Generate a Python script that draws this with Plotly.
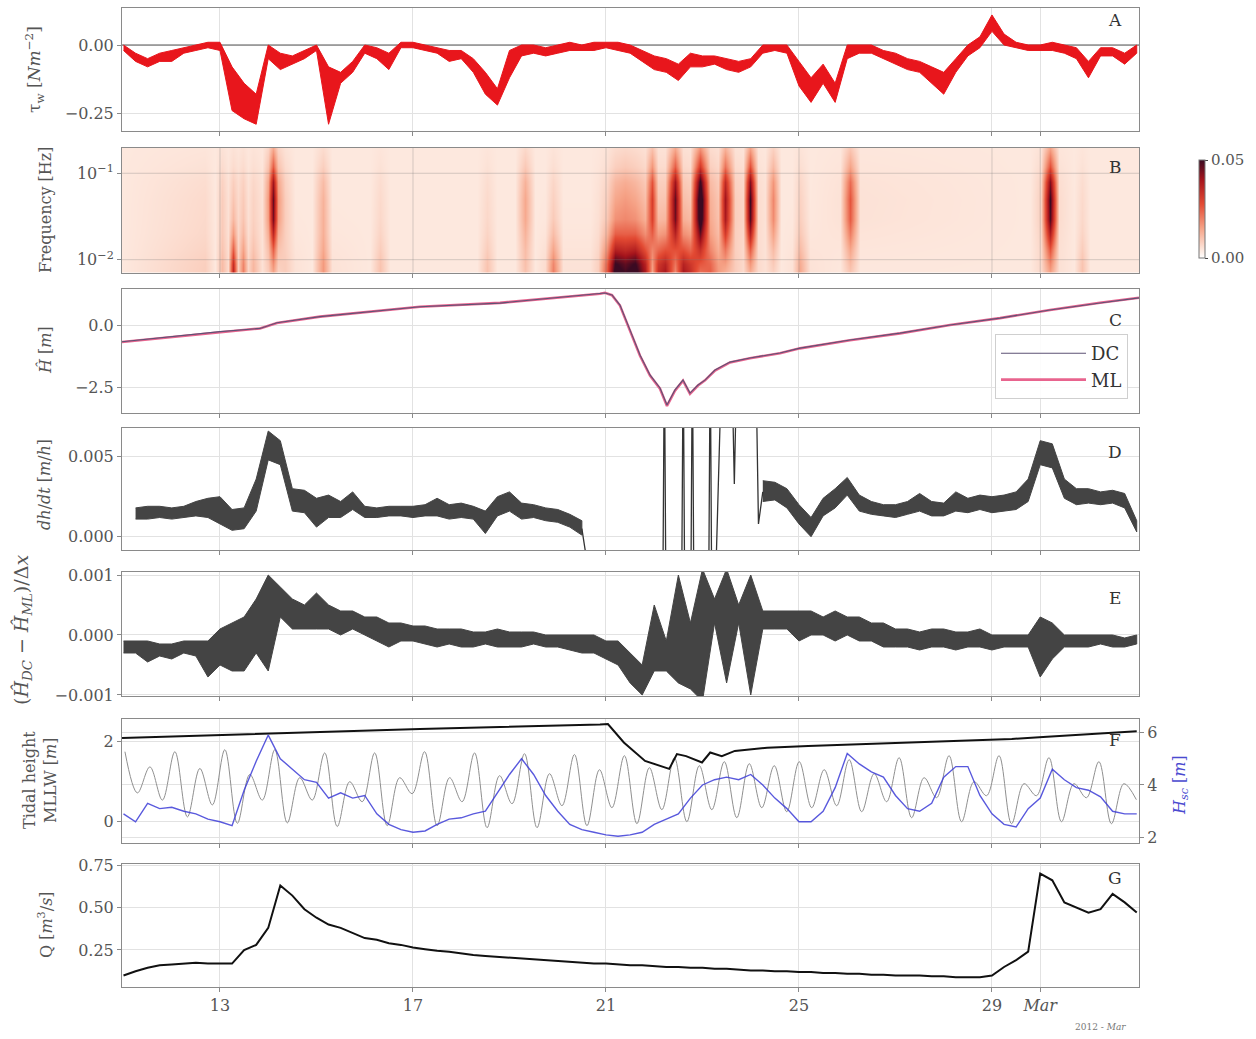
import numpy as np
import plotly.graph_objects as go

# ---------------- data (time = day of Feb 2012, 1 Mar = day 30) ----------------
grid_days = list(np.arange(11.0, 32.001, 0.25))  # 85 samples, 6-hourly

tau_lo = [-0.02,-0.06,-0.08,-0.06,-0.06,-0.03,-0.02,-0.01,-0.02,-0.24,
          -0.27,-0.29,-0.05,-0.09,-0.07,-0.05,-0.02,-0.29,-0.14,-0.10,
          -0.03,-0.05,-0.09,-0.01,-0.01,-0.02,-0.03,-0.06,-0.05,-0.10,
          -0.18,-0.22,-0.12,-0.04,-0.03,-0.04,-0.03,-0.02,-0.02,-0.02,
          -0.01,-0.02,-0.03,-0.06,-0.09,-0.10,-0.13,-0.08,-0.08,-0.07,
          -0.09,-0.10,-0.08,-0.03,-0.02,-0.03,-0.15,-0.21,-0.14,-0.21,
          -0.05,-0.03,-0.03,-0.05,-0.07,-0.09,-0.10,-0.14,-0.18,-0.10,
          -0.04,-0.01,0.05,0.00,-0.01,-0.02,-0.02,-0.02,-0.03,-0.05,
          -0.12,-0.04,-0.04,-0.07,-0.03]
tau_hi = [0.00,-0.03,-0.05,-0.03,-0.02,-0.01,0.00,0.01,0.01,-0.08,
          -0.14,-0.18,0.00,-0.03,-0.04,-0.02,0.00,-0.08,-0.10,-0.06,
          0.00,-0.01,-0.03,0.01,0.01,0.00,-0.01,-0.02,-0.02,-0.05,
          -0.10,-0.16,-0.02,0.00,0.00,-0.01,0.00,0.01,0.00,0.01,
          0.01,0.01,0.00,-0.02,-0.04,-0.05,-0.07,-0.03,-0.04,-0.04,
          -0.05,-0.06,-0.05,0.00,0.00,0.00,-0.06,-0.12,-0.07,-0.14,
          0.00,0.00,0.00,-0.02,-0.03,-0.05,-0.06,-0.08,-0.10,-0.05,
          0.00,0.03,0.11,0.04,0.01,0.00,0.00,0.01,0.00,-0.01,
          -0.06,-0.01,-0.01,-0.03,0.00]

# spectrogram: time columns, low-frequency band energy, high-frequency band energy
spec_t = [10.97,12.69,12.90,13.04,13.17,13.27,13.37,13.48,13.58,13.68,13.87,13.99,14.10,14.20,
          14.35,14.55,14.90,15.13,15.32,16.11,16.32,16.52,18.33,18.53,18.74,19.11,19.32,19.53,
          19.74,19.90,20.11,20.67,20.83,21.02,21.19,21.39,21.60,21.81,21.95,22.08,22.22,22.43,
          22.60,22.74,22.95,23.16,23.32,23.47,23.67,23.84,23.98,24.15,24.30,24.46,24.63,24.86,
          25.02,25.22,25.85,26.06,26.26,29.79,30.02,30.20,30.39,30.70,30.87,31.03,32.05]
spec_lo = [0,0.004,0,0.007,0.002,0.032,0.004,0.016,0.003,0.008,0.001,0.003,0.006,0.002,
           0.004,0.001,0,0.012,0.001,0,0.006,0,0,0.006,0,0,0.005,0,
           0.002,0.016,0.001,0.001,0.004,0.022,0.05,0.045,0.05,0.035,0.008,0.03,0.035,0.01,
           0.035,0.03,0.012,0.02,0.012,0.005,0.004,0.002,0.004,0.002,0.001,0.002,0,0.001,
           0.010,0.001,0,0.003,0,0,0.002,0.006,0.001,0,0.006,0,0]
spec_hi = [0,0.002,0,0.004,0.001,0.004,0.002,0.004,0.001,0.003,0.001,0.012,0.042,0.012,
           0.004,0,0,0.008,0,0,0.002,0,0,0.002,0,0,0.010,0,
           0,0.003,0,0,0.001,0.003,0.008,0.01,0.008,0.005,0.026,0.004,0.004,0.042,
           0.005,0.004,0.055,0.008,0.005,0.036,0.004,0.003,0.046,0.002,0.001,0.015,0,0,
           0.003,0,0.001,0.022,0.001,0,0.004,0.046,0.002,0,0.002,0,0]
spec_f = [0.0068, 0.009, 0.013, 0.02, 0.03, 0.05, 0.08, 0.12, 0.19]
lo_profile = [1.0, 0.9, 0.6, 0.3, 0.12, 0.05, 0.02, 0.0, 0.0]
hi_profile = [0.1, 0.2, 0.4, 0.7, 0.95, 1.0, 0.85, 0.5, 0.25]
spec_bg = 0.004

h_t = [10.969,13.0,13.829,14.181,15.073,17.145,18.803,20.876,20.979,21.124,21.290,21.497,21.705,
       21.912,22.119,22.264,22.43,22.596,22.741,22.907,23.052,23.259,23.57,23.984,24.606,25.021,
       26.057,27.093,28.13,29.166,30.202,31.238,32.047]
h_dc = [-0.65,-0.24,-0.11,0.12,0.37,0.77,0.92,1.29,1.33,1.25,0.84,-0.17,-1.19,-2.0,-2.53,-3.22,
        -2.61,-2.21,-2.74,-2.41,-2.21,-1.8,-1.48,-1.31,-1.11,-0.91,-0.58,-0.30,0.03,0.31,0.64,0.92,1.13]
h_ml = [-0.66,-0.25,-0.11,0.11,0.37,0.77,0.93,1.30,1.34,1.24,0.82,-0.20,-1.22,-2.03,-2.56,-3.26,
        -2.64,-2.23,-2.77,-2.43,-2.22,-1.82,-1.49,-1.32,-1.12,-0.92,-0.59,-0.31,0.03,0.31,0.64,0.93,1.14]

d_lo = [None,0.0011,0.0011,0.0012,0.0011,0.0012,0.0013,0.0012,0.0008,0.0004,
        0.0005,0.0016,0.0048,0.0045,0.0016,0.0015,0.0006,0.0012,0.0012,0.0017,
        0.0012,0.0012,0.0013,0.0013,0.0012,0.0013,0.0013,0.0011,0.0012,0.0011,
        0.0002,0.0013,0.0016,0.0011,0.0012,0.0010,0.0009,0.0006,0.0001,None,
        None,None,None,None,None,None,None,None,None,None,
        None,None,None,0.0022,0.0023,0.0018,0.0008,0.0000,0.0013,0.0018,
        0.0026,0.0016,0.0014,0.0013,0.0012,0.0014,0.0016,0.0013,0.0013,0.0016,
        0.0015,0.0017,0.0015,0.0016,0.0017,0.0022,0.0045,0.0043,0.0024,0.0020,
        0.0021,0.0020,0.0021,0.0018,0.0003]
d_hi = [None,0.0018,0.0019,0.0019,0.0018,0.0019,0.0022,0.0024,0.0025,0.0017,
        0.0018,0.0036,0.0066,0.0060,0.0030,0.0029,0.0024,0.0026,0.0022,0.0028,
        0.0019,0.0018,0.0019,0.0019,0.0019,0.0020,0.0024,0.0020,0.0021,0.0019,
        0.0016,0.0025,0.0028,0.0021,0.0020,0.0018,0.0017,0.0014,0.0010,None,
        None,None,None,None,None,None,None,None,None,None,
        None,None,None,0.0035,0.0034,0.0030,0.0020,0.0012,0.0024,0.0030,
        0.0037,0.0026,0.0022,0.0020,0.0020,0.0022,0.0027,0.0022,0.0021,0.0028,
        0.0024,0.0026,0.0025,0.0026,0.0028,0.0036,0.0060,0.0058,0.0036,0.0030,
        0.0030,0.0028,0.0029,0.0027,0.0010]
d_spike_t = [20.5,20.68,22.18,22.21,22.24,22.57,22.60,22.63,22.76,22.79,22.82,23.13,23.16,23.19,
             23.27,23.41,23.60,23.66,23.72,23.80,24.10,24.16,24.25]
d_spike_v = [0.0005,-0.003,-0.003,0.012,-0.003,-0.003,0.012,-0.003,-0.003,0.012,-0.003,-0.003,
             0.012,-0.003,-0.003,0.012,0.012,0.0033,0.012,0.012,0.012,0.0008,0.0028]

e_lo = [-0.0003,-0.0003,-0.00045,-0.00035,-0.0004,-0.0003,-0.00035,-0.0007,-0.0005,-0.0006,
        -0.0006,-0.0003,-0.0006,0.0003,0.0001,0.0001,0.0001,0.0001,0.0000,0.0001,
        0.0000,-0.0001,-0.0002,-0.0001,-0.0001,-0.00015,-0.0002,-0.00015,-0.0002,-0.0002,
        -0.00015,-0.0002,-0.0002,-0.0002,-0.00015,-0.0002,-0.0002,-0.00025,-0.0003,-0.0003,
        -0.0004,-0.0005,-0.0008,-0.0010,-0.0006,-0.0006,-0.0008,-0.0009,-0.0011,0.0002,
        -0.0008,0.0002,-0.0010,0.0001,0.0001,0.0001,-0.0001,0.0000,0.0000,-0.0001,
        0.0000,-0.0001,-0.0001,-0.0002,-0.0002,-0.0002,-0.00025,-0.0002,-0.0002,-0.00025,
        -0.0002,-0.0002,-0.00025,-0.0002,-0.0002,-0.0002,-0.0007,-0.0004,-0.0002,-0.0002,
        -0.0002,-0.00015,-0.0002,-0.0002,-0.00015]
e_hi = [-0.0001,-0.0001,-0.0001,-0.00015,-0.00015,-0.0001,-0.0001,-0.0001,0.0001,0.0002,
        0.0003,0.0006,0.0010,0.0008,0.0006,0.0005,0.0007,0.0005,0.0004,0.0004,
        0.0003,0.0003,0.0002,0.0002,0.00015,0.00015,0.0001,0.0001,0.0001,0.00005,
        0.00005,0.0001,0.00005,0.00005,0.00005,0.0,0.0,0.0,0.0,0.0,
        -0.0001,-0.0001,-0.0003,-0.0005,0.0005,-0.0001,0.0010,0.0002,0.0011,0.0006,
        0.0011,0.0005,0.0010,0.0004,0.0004,0.0004,0.0004,0.0004,0.0003,0.0004,
        0.0003,0.0003,0.0002,0.0002,0.0001,0.0001,0.00005,0.0001,0.0001,0.00005,
        0.00005,0.0001,0.0,0.0,0.0,0.0,0.0003,0.0002,0.0,0.0,
        0.0,0.0,0.0,-0.00005,0.0]

tide_t0, tide_step = 11.03, 0.2588   # successive high/low waters
tide_h = [1.75,0.72,1.37,0.54,1.75,0.12,1.33,0.42,1.8,-0.04,1.18,0.54,1.8,-0.03,1.1,0.54,
          1.72,-0.12,1.0,0.5,1.72,-0.1,1.1,0.7,
          1.75,-0.1,1.1,0.5,1.72,-0.15,1.15,0.45,1.7,-0.15,1.2,0.4,1.68,-0.1,1.3,0.35,
          1.65,-0.05,1.35,0.3,1.6,0.0,1.4,0.3,1.5,0.1,1.45,0.35,1.4,0.25,1.5,0.35,
          1.3,0.4,1.55,0.25,1.2,0.5,1.6,0.1,1.1,0.6,1.65,0.0,1.0,0.65,1.65,-0.05,
          0.95,0.65,1.6,0.0,0.95,0.6,1.5,-0.05,0.95,0.55]
tide_t = [tide_t0 + tide_step * i for i in range(len(tide_h))]

bed_t = [10.97,13.0,17.145,20.876,21.04,21.37,21.81,22.31,22.47,22.66,22.99,23.16,23.40,23.67,
         24.34,25.19,29.41,30.06,31.45,32.0]
bed_h = [2.09,2.17,2.32,2.43,2.44,1.98,1.52,1.32,1.69,1.64,1.48,1.73,1.64,1.77,
         1.85,1.89,2.07,2.12,2.22,2.26]

hs = [2.9,2.6,3.3,3.1,3.15,3.0,2.9,2.7,2.6,2.45,
      3.8,4.9,5.9,5.0,4.6,4.2,4.1,3.5,3.7,3.5,
      3.6,2.9,2.5,2.3,2.2,2.25,2.5,2.7,2.75,2.9,
      3.0,3.7,4.4,5.0,4.4,3.6,3.0,2.5,2.3,2.2,
      2.1,2.05,2.1,2.2,2.5,2.7,2.9,3.5,4.0,4.2,
      4.3,4.2,4.4,4.0,3.5,3.1,2.6,2.6,3.0,3.9,
      5.2,4.8,4.5,4.3,3.6,3.1,3.0,3.3,4.3,4.7,
      4.7,3.6,2.9,2.5,2.4,3.1,3.5,4.6,4.2,3.9,
      3.8,3.55,3.0,2.9,2.9]

q = [0.10,0.125,0.145,0.16,0.165,0.17,0.175,0.17,0.17,0.17,
     0.25,0.28,0.38,0.63,0.57,0.49,0.44,0.40,0.38,0.35,
     0.32,0.31,0.29,0.28,0.265,0.255,0.245,0.24,0.23,0.22,
     0.215,0.21,0.205,0.20,0.195,0.19,0.185,0.18,0.175,0.17,
     0.17,0.165,0.16,0.16,0.155,0.15,0.15,0.145,0.145,0.14,
     0.14,0.135,0.13,0.13,0.125,0.125,0.12,0.12,0.115,0.115,
     0.11,0.11,0.105,0.105,0.10,0.10,0.10,0.095,0.095,0.09,
     0.09,0.09,0.10,0.15,0.19,0.24,0.70,0.66,0.53,0.50,
     0.47,0.49,0.58,0.53,0.47]

x_tickvals = [13, 17, 21, 25, 29, 30]
x_ticktext = ["13", "17", "21", "25", "29", "<i>Mar</i>"]

# ---------------- styling / layout ----------------
W, H = 1256, 1039
FONT = "DejaVu Serif"
TXT = "#555555"
GRID = "#e2e2e2"
FRAME = "#8a8a8a"
XR = [10.969, 32.047]
XDOM = [122 / W, 1139 / W]
panel_px = [(8.3, 131), (147.7, 272.7), (289.3, 413.3), (427.7, 550),
            (571.7, 696), (719.3, 843.3), (864, 986.7)]


def ydom(top, bot):
    return [1 - bot / H, 1 - top / H]


def band(t, lo, hi):
    xs, ys, seg, segs = [], [], [], []
    for ti, a, b in zip(t, lo, hi):
        if a is None:
            if seg:
                segs.append(seg)
            seg = []
        else:
            seg.append((ti, a, b))
    if seg:
        segs.append(seg)
    for s in segs:
        xs += [p[0] for p in s] + [p[0] for p in reversed(s)] + [None]
        ys += [p[2] for p in s] + [p[1] for p in reversed(s)] + [None]
    return xs, ys


fig = go.Figure()

# A: wind stress
fig.add_trace(go.Scatter(x=[XR[0], XR[1]], y=[0, 0], mode="lines",
                         line=dict(color="#555", width=1), xaxis="x", yaxis="y", showlegend=False))
bx, by = band(grid_days, tau_lo, tau_hi)
fig.add_trace(go.Scatter(x=bx, y=by, mode="lines", fill="toself", fillcolor="#e8161c",
                         line=dict(color="#e8161c", width=1), xaxis="x", yaxis="y", showlegend=False))

# B: spectrogram
z = [[spec_bg + lo_profile[r] * spec_lo[c] + hi_profile[r] * spec_hi[c] for c in range(len(spec_t))]
     for r in range(len(spec_f))]
cscale = [[0, "#ffffff"], [0.08, "#fde8de"], [0.3, "#f6a488"], [0.55, "#e34a33"],
          [0.8, "#a5141c"], [1, "#3b0a22"]]
fig.add_trace(go.Heatmap(x=spec_t, y=spec_f, z=z, zmin=0, zmax=0.05, colorscale=cscale,
                         zsmooth="best", xaxis="x2", yaxis="y2",
                         colorbar=dict(x=1189 / W, xanchor="left", y=1 - 209 / H, yanchor="middle",
                                       lenmode="pixels", len=118, thickness=6, outlinewidth=1,
                                       outlinecolor="#777", tickvals=[0, 0.05],
                                       ticktext=["0.00", "0.05"], ticks="outside", ticklen=3,
                                       tickfont=dict(family=FONT, size=15, color=TXT))))
gx, gy = [], []
for v in x_tickvals:
    gx += [v, v, None]
    gy += [0.00706, 0.2, None]
for f in [0.01, 0.1]:
    gx += [XR[0], XR[1], None]
    gy += [f, f, None]
fig.add_trace(go.Scatter(x=gx, y=gy, mode="lines", line=dict(color="rgba(120,120,120,0.3)", width=1),
                         xaxis="x2", yaxis="y2", showlegend=False, hoverinfo="skip"))

# C: H-hat
fig.add_trace(go.Scatter(x=h_t, y=h_ml, mode="lines", name="ML", legendrank=2,
                         line=dict(color="#e8648e", width=2.6), xaxis="x3", yaxis="y3"))
fig.add_trace(go.Scatter(x=h_t, y=h_dc, mode="lines", name="DC", legendrank=1,
                         line=dict(color="#5d5275", width=1.1), xaxis="x3", yaxis="y3"))

# D: dh/dt
bx, by = band(grid_days, d_lo, d_hi)
fig.add_trace(go.Scatter(x=bx, y=by, mode="lines", fill="toself", fillcolor="#444",
                         line=dict(color="#444", width=1), xaxis="x4", yaxis="y4", showlegend=False))
fig.add_trace(go.Scatter(x=d_spike_t, y=d_spike_v, mode="lines", line=dict(color="#333", width=1.3),
                         xaxis="x4", yaxis="y4", showlegend=False))

# E: difference
bx, by = band(grid_days, e_lo, e_hi)
fig.add_trace(go.Scatter(x=bx, y=by, mode="lines", fill="toself", fillcolor="#444",
                         line=dict(color="#444", width=1), xaxis="x5", yaxis="y5", showlegend=False))

# F: tide, bed line, Hs
fig.add_trace(go.Scatter(x=tide_t, y=tide_h, mode="lines", line=dict(color="#8f8f8f", width=1, shape="spline"),
                         xaxis="x6", yaxis="y6", showlegend=False))
fig.add_trace(go.Scatter(x=bed_t, y=bed_h, mode="lines", line=dict(color="#111", width=2),
                         xaxis="x6", yaxis="y6", showlegend=False))
fig.add_trace(go.Scatter(x=grid_days, y=hs, mode="lines", line=dict(color="rgba(60,60,215,0.85)", width=1.4),
                         xaxis="x6", yaxis="y8", showlegend=False))

# G: discharge
fig.add_trace(go.Scatter(x=grid_days, y=q, mode="lines", line=dict(color="#111", width=2),
                         xaxis="x7", yaxis="y7", showlegend=False))

tickfont = dict(family=FONT, size=16, color=TXT)
layout = dict(width=W, height=H, margin=dict(l=0, r=0, t=0, b=0, autoexpand=False),
              paper_bgcolor="white", plot_bgcolor="white",
              font=dict(family=FONT, size=16, color=TXT),
              legend=dict(x=1128 / W, y=1 - 334 / H, xanchor="right", yanchor="top",
                          bordercolor="#cfcfcf", borderwidth=1, bgcolor="rgba(255,255,255,0.9)",
                          font=dict(family=FONT, size=18, color="#333"), itemwidth=85))

yspecs = [
    dict(range=[-0.3147, 0.1343], tickvals=[-0.25, 0], ticktext=["−0.25", "0.00"]),
    dict(type="log", range=[-2.151, -0.704], tickvals=[0.01, 0.1],
         ticktext=["10<sup>−2</sup>", "10<sup>−1</sup>"]),
    dict(range=[-3.56, 1.48], tickvals=[-2.5, 0], ticktext=["−2.5", "0.0"]),
    dict(range=[-0.00083, 0.00681], tickvals=[0, 0.005], ticktext=["0.000", "0.005"]),
    dict(range=[-0.001017, 0.001055], tickvals=[-0.001, 0, 0.001], ticktext=["−0.001", "0.000", "0.001"]),
    dict(range=[-0.54, 2.56], tickvals=[0, 2], ticktext=["0", "2"]),
    dict(range=[0.034, 0.756], tickvals=[0.25, 0.5, 0.75], ticktext=["0.25", "0.50", "0.75"]),
]
for k in range(1, 8):
    sfx = "" if k == 1 else str(k)
    top, bot = panel_px[k - 1]
    layout["xaxis" + sfx] = dict(domain=XDOM, range=XR, anchor="y" + sfx, tickvals=x_tickvals,
                                 ticktext=x_ticktext, showticklabels=(k == 7), ticks="outside",
                                 ticklen=4, tickcolor=FRAME, showgrid=True, gridcolor=GRID,
                                 showline=True, linecolor=FRAME, linewidth=1, mirror=True,
                                 zeroline=False, tickfont=tickfont)
    ya = dict(domain=ydom(top, bot), anchor="x" + sfx, ticks="outside", ticklen=4, tickcolor=FRAME,
              showgrid=True, gridcolor=GRID, showline=True, linecolor=FRAME, linewidth=1,
              mirror=True, zeroline=False, tickfont=tickfont)
    ya.update(yspecs[k - 1])
    layout["yaxis" + sfx] = ya

layout["yaxis8"] = dict(overlaying="y6", side="right", anchor="x6", range=[1.78, 6.50],
                        tickvals=[2, 4, 6], ticktext=["2", "4", "6"], ticks="outside", ticklen=4,
                        tickcolor=FRAME, showgrid=True, gridcolor=GRID, zeroline=False, tickfont=tickfont)

ann = []
letters = ["A", "B", "C", "D", "E", "F", "G"]
letter_y = [20, 167, 320, 452, 598, 740, 878]
for L, yy in zip(letters, letter_y):
    ann.append(dict(text=L, x=1115 / W, y=1 - yy / H, xref="paper", yref="paper", showarrow=False,
                    xanchor="center", yanchor="middle",
                    font=dict(family=FONT, size=17, color="#333")))
ylabels = [
    ("τ<sub>w</sub> [<i>Nm</i><sup>−2</sup>]", 35, 70, TXT, 17),
    ("Frequency [Hz]", 45, 210, TXT, 16),
    ("<i>Ĥ</i> [<i>m</i>]", 45, 350, TXT, 16),
    ("<i>dh</i>/<i>dt</i> [<i>m</i>/<i>h</i>]", 45, 485, TXT, 16),
    ("(<i>Ĥ</i><sub><i>DC</i></sub> − <i>Ĥ</i><sub><i>ML</i></sub>)/Δ<i>x</i>", 22, 630, TXT, 19),
    ("Tidal height<br>MLLW [<i>m</i>]", 40, 780, TXT, 16),
    ("<i>H<sub>sc</sub></i> [<i>m</i>]", 1180, 785, "#4a4ad0", 16),
    ("Q [<i>m</i><sup>3</sup>/<i>s</i>]", 45, 925, TXT, 16),
]
for txt, xx, yy, col, fs in ylabels:
    ann.append(dict(text=txt, x=xx / W, y=1 - yy / H, xref="paper", yref="paper", showarrow=False,
                    textangle=-90, xanchor="center", yanchor="middle",
                    font=dict(family=FONT, size=fs, color=col)))
ann.append(dict(text="2012 - <i>Mar</i>", x=1100 / W, y=1 - 1027 / H, xref="paper", yref="paper",
                showarrow=False, xanchor="center", yanchor="middle",
                font=dict(family=FONT, size=9, color="#777")))
layout["annotations"] = ann

fig.update_layout(**layout)
fig.write_html("out.html")
